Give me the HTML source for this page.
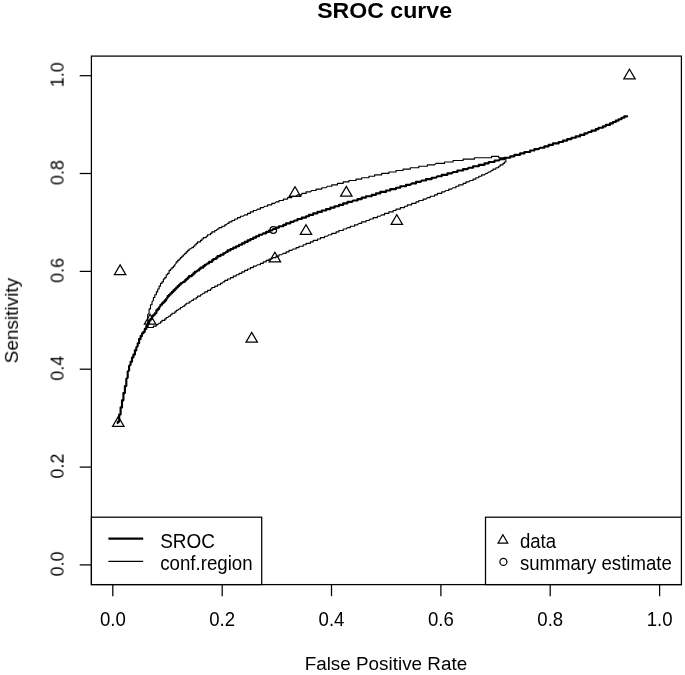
<!DOCTYPE html>
<html><head><meta charset="utf-8"><title>SROC curve</title>
<style>
html,body{margin:0;padding:0;background:#fff;}
svg{display:block;}
text{font-family:"Liberation Sans",sans-serif;fill:#000;filter:url(#bt);}
</style></head><body>
<svg width="685" height="675" viewBox="0 0 685 675">
<defs><filter id="bl" x="-5%" y="-5%" width="110%" height="110%"><feGaussianBlur stdDeviation="0.55"/></filter><filter id="bl2" x="-5%" y="-5%" width="110%" height="110%"><feGaussianBlur stdDeviation="0.4"/></filter><filter id="bt" x="-5%" y="-20%" width="110%" height="140%"><feGaussianBlur stdDeviation="0.4"/></filter></defs>
<rect width="685" height="675" fill="#fff"/>
<text transform="translate(384.60,18.40) scale(1.085,1.000)" font-size="21.3" text-anchor="middle" font-weight="bold">SROC curve</text>
<text transform="translate(385.90,669.70) scale(1.015,0.970)" font-size="18.6" text-anchor="middle">False Positive Rate</text>
<text transform="translate(17.90,320.60) rotate(-90) scale(1.020,1.000)" font-size="18.6" text-anchor="middle">Sensitivity</text>
<g fill="none" stroke="#000" stroke-width="1.25">
<rect x="91.4" y="56.1" width="590.0" height="528.5"/>
<path d="M112.8,584.6 V596.2"/>
<path d="M91.4,564.9 H79.7"/>
<path d="M222.2,584.6 V596.2"/>
<path d="M91.4,467.1 H79.7"/>
<path d="M331.5,584.6 V596.2"/>
<path d="M91.4,369.2 H79.7"/>
<path d="M440.9,584.6 V596.2"/>
<path d="M91.4,271.4 H79.7"/>
<path d="M550.2,584.6 V596.2"/>
<path d="M91.4,173.5 H79.7"/>
<path d="M659.6,584.6 V596.2"/>
<path d="M91.4,75.7 H79.7"/>
</g>
<text transform="translate(112.80,625.50) scale(1.000,1.090)" font-size="18.6" text-anchor="middle">0.0</text>
<text transform="translate(63.60,563.90) rotate(-90) scale(0.960,1.000)" font-size="18.6" text-anchor="middle">0.0</text>
<text transform="translate(222.16,625.50) scale(1.000,1.090)" font-size="18.6" text-anchor="middle">0.2</text>
<text transform="translate(63.60,466.06) rotate(-90) scale(0.960,1.000)" font-size="18.6" text-anchor="middle">0.2</text>
<text transform="translate(331.52,625.50) scale(1.000,1.090)" font-size="18.6" text-anchor="middle">0.4</text>
<text transform="translate(63.60,368.22) rotate(-90) scale(0.960,1.000)" font-size="18.6" text-anchor="middle">0.4</text>
<text transform="translate(440.88,625.50) scale(1.000,1.090)" font-size="18.6" text-anchor="middle">0.6</text>
<text transform="translate(63.60,270.38) rotate(-90) scale(0.960,1.000)" font-size="18.6" text-anchor="middle">0.6</text>
<text transform="translate(550.24,625.50) scale(1.000,1.090)" font-size="18.6" text-anchor="middle">0.8</text>
<text transform="translate(63.60,172.54) rotate(-90) scale(0.960,1.000)" font-size="18.6" text-anchor="middle">0.8</text>
<text transform="translate(659.60,625.50) scale(1.000,1.090)" font-size="18.6" text-anchor="middle">1.0</text>
<text transform="translate(63.60,74.70) rotate(-90) scale(0.960,1.000)" font-size="18.6" text-anchor="middle">1.0</text>
<path d="M117.7,423.1 L117.7,421.7 L119.2,421.7 L119.2,420.3 L119.2,418.8 L119.2,417.4 L119.2,416.0 L119.2,414.5 L120.6,414.5 L120.6,413.1 L120.6,411.7 L120.6,410.3 L120.6,408.8 L120.6,407.4 L122.0,407.4 L122.0,406.0 L122.0,404.6 L122.0,403.1 L122.0,401.7 L122.0,400.3 L123.4,400.3 L123.4,398.8 L123.4,397.4 L123.4,396.0 L123.4,394.6 L123.4,393.1 L124.9,393.1 L124.9,391.7 L124.9,390.3 L124.9,388.9 L124.9,387.4 L124.9,386.0 L126.3,386.0 L126.3,384.6 L126.3,383.1 L126.3,381.7 L126.3,380.3 L126.3,378.9 L127.7,377.4 L127.7,376.0 L127.7,374.6 L127.7,373.2 L127.7,371.7 L129.1,370.3 L129.1,368.9 L129.1,367.5 L129.1,366.0 L130.6,364.6 L130.6,363.2 L130.6,361.7 L132.0,361.7 L132.0,360.3 L132.0,358.9 L132.0,357.5 L133.4,357.5 L133.4,356.0 L133.4,354.6 L134.9,354.6 L134.9,353.2 L134.9,351.8 L134.9,350.3 L136.3,350.3 L136.3,348.9 L136.3,347.5 L137.7,346.0 L137.7,344.6 L137.7,343.2 L139.1,343.2 L139.1,341.8 L139.1,340.3 L139.1,338.9 L140.6,338.9 L140.6,337.5 L140.6,336.1 L142.0,336.1 L142.0,334.6 L142.0,333.2 L143.4,333.2 L143.4,331.8 L144.8,331.8 L144.8,330.4 L144.8,328.9 L146.3,328.9 L146.3,327.5 L146.3,326.1 L147.7,326.1 L147.7,324.6 L147.7,323.2 L149.1,323.2 L149.1,321.8 L149.1,320.4 L150.5,320.4 L150.5,318.9 L152.0,318.9 L152.0,317.5 L152.0,316.1 L153.4,316.1 L153.4,314.7 L154.8,314.7 L154.8,313.2 L156.3,313.2 L156.3,311.8 L156.3,310.4 L157.7,310.4 L157.7,308.9 L159.1,308.9 L159.1,307.5 L160.5,306.1 L160.5,304.7 L162.0,304.7 L162.0,303.2 L163.4,303.2 L163.4,301.8 L164.8,301.8 L164.8,300.4 L166.2,300.4 L166.2,299.0 L167.7,297.5 L167.7,296.1 L169.1,296.1 L169.1,294.7 L170.5,294.7 L170.5,293.2 L172.0,293.2 L172.0,291.8 L173.4,291.8 L173.4,290.4 L174.8,290.4 L174.8,289.0 L176.2,289.0 L176.2,287.5 L177.7,287.5 L177.7,286.1 L179.1,286.1 L179.1,284.7 L180.5,284.7 L180.5,283.3 L181.9,283.3 L183.4,281.8 L184.8,281.8 L184.8,280.4 L186.2,280.4 L186.2,279.0 L187.7,279.0 L187.7,277.6 L189.1,277.6 L189.1,276.1 L190.5,276.1 L191.9,276.1 L191.9,274.7 L193.4,274.7 L193.4,273.3 L194.8,273.3 L194.8,271.8 L196.2,271.8 L197.6,270.4 L199.1,270.4 L199.1,269.0 L200.5,269.0 L200.5,267.6 L201.9,267.6 L203.3,267.6 L203.3,266.1 L204.8,266.1 L204.8,264.7 L206.2,264.7 L207.6,263.3 L209.1,263.3 L209.1,261.9 L210.5,261.9 L211.9,261.9 L211.9,260.4 L213.3,260.4 L213.3,259.0 L214.8,259.0 L216.2,259.0 L216.2,257.6 L217.6,257.6 L217.6,256.1 L219.0,256.1 L220.5,256.1 L220.5,254.7 L221.9,254.7 L223.3,254.7 L223.3,253.3 L224.8,253.3 L226.2,251.9 L227.6,251.9 L227.6,250.4 L229.0,250.4 L230.5,250.4 L230.5,249.0 L231.9,249.0 L233.3,249.0 L233.3,247.6 L234.7,247.6 L236.2,247.6 L236.2,246.2 L237.6,246.2 L239.0,246.2 L239.0,244.7 L240.4,244.7 L241.9,244.7 L241.9,243.3 L243.3,243.3 L244.7,243.3 L244.7,241.9 L246.2,241.9 L247.6,241.9 L247.6,240.4 L249.0,240.4 L250.4,240.4 L250.4,239.0 L251.9,239.0 L253.3,239.0 L253.3,237.6 L254.7,237.6 L256.1,237.6 L256.1,236.2 L257.6,236.2 L259.0,236.2 L259.0,234.7 L260.4,234.7 L261.9,234.7 L263.3,233.3 L264.7,233.3 L266.1,233.3 L266.1,231.9 L267.6,231.9 L269.0,231.9 L269.0,230.5 L270.4,230.5 L271.8,230.5 L273.3,229.0 L274.7,229.0 L276.1,229.0 L276.1,227.6 L277.6,227.6 L279.0,227.6 L279.0,226.2 L280.4,226.2 L281.8,226.2 L283.3,226.2 L283.3,224.8 L284.7,224.8 L286.1,224.8 L286.1,223.3 L287.5,223.3 L289.0,223.3 L290.4,223.3 L290.4,221.9 L291.8,221.9 L293.2,221.9 L294.7,220.5 L296.1,220.5 L297.5,220.5 L297.5,219.0 L299.0,219.0 L300.4,219.0 L301.8,219.0 L301.8,217.6 L303.2,217.6 L304.7,217.6 L306.1,217.6 L306.1,216.2 L307.5,216.2 L308.9,216.2 L308.9,214.8 L310.4,214.8 L311.8,214.8 L313.2,214.8 L313.2,213.3 L314.7,213.3 L316.1,213.3 L317.5,213.3 L317.5,211.9 L318.9,211.9 L320.4,211.9 L321.8,211.9 L321.8,210.5 L323.2,210.5 L324.6,210.5 L326.1,210.5 L326.1,209.1 L327.5,209.1 L328.9,209.1 L330.4,209.1 L330.4,207.6 L331.8,207.6 L333.2,207.6 L334.6,207.6 L334.6,206.2 L336.1,206.2 L337.5,206.2 L338.9,206.2 L338.9,204.8 L340.3,204.8 L341.8,204.8 L343.2,204.8 L343.2,203.3 L344.6,203.3 L346.0,203.3 L347.5,203.3 L347.5,201.9 L348.9,201.9 L350.3,201.9 L351.8,201.9 L353.2,200.5 L354.6,200.5 L356.0,200.5 L357.5,200.5 L357.5,199.1 L358.9,199.1 L360.3,199.1 L361.7,199.1 L361.7,197.6 L363.2,197.6 L364.6,197.6 L366.0,197.6 L366.0,196.2 L367.5,196.2 L368.9,196.2 L370.3,196.2 L371.7,196.2 L371.7,194.8 L373.2,194.8 L374.6,194.8 L376.0,194.8 L376.0,193.4 L377.4,193.4 L378.9,193.4 L380.3,193.4 L380.3,191.9 L381.7,191.9 L383.1,191.9 L384.6,191.9 L386.0,191.9 L386.0,190.5 L387.4,190.5 L388.9,190.5 L390.3,190.5 L390.3,189.1 L391.7,189.1 L393.1,189.1 L394.6,189.1 L396.0,189.1 L396.0,187.7 L397.4,187.7 L398.8,187.7 L400.3,187.7 L400.3,186.2 L401.7,186.2 L403.1,186.2 L404.6,186.2 L406.0,186.2 L406.0,184.8 L407.4,184.8 L408.8,184.8 L410.3,184.8 L411.7,183.4 L413.1,183.4 L414.5,183.4 L416.0,183.4 L416.0,181.9 L417.4,181.9 L418.8,181.9 L420.3,181.9 L421.7,180.5 L423.1,180.5 L424.5,180.5 L426.0,180.5 L426.0,179.1 L427.4,179.1 L428.8,179.1 L430.2,179.1 L431.7,179.1 L431.7,177.7 L433.1,177.7 L434.5,177.7 L435.9,177.7 L437.4,176.2 L438.8,176.2 L440.2,176.2 L441.7,176.2 L441.7,174.8 L443.1,174.8 L444.5,174.8 L445.9,174.8 L447.4,174.8 L447.4,173.4 L448.8,173.4 L450.2,173.4 L451.6,173.4 L453.1,172.0 L454.5,172.0 L455.9,172.0 L457.4,172.0 L457.4,170.5 L458.8,170.5 L460.2,170.5 L461.6,170.5 L463.1,170.5 L463.1,169.1 L464.5,169.1 L465.9,169.1 L467.3,169.1 L468.8,167.7 L470.2,167.7 L471.6,167.7 L473.1,167.7 L473.1,166.2 L474.5,166.2 L475.9,166.2 L477.3,166.2 L478.8,166.2 L478.8,164.8 L480.2,164.8 L481.6,164.8 L483.0,164.8 L484.5,164.8 L484.5,163.4 L485.9,163.4 L487.3,163.4 L488.7,163.4 L488.7,162.0 L490.2,162.0 L491.6,162.0 L493.0,162.0 L494.5,162.0 L494.5,160.5 L495.9,160.5 L497.3,160.5 L498.7,160.5 L500.2,159.1 L501.6,159.1 L503.0,159.1 L504.4,159.1 L504.4,157.7 L505.9,157.7 L507.3,157.7 L508.7,157.7 L510.2,157.7 L510.2,156.3 L511.6,156.3 L513.0,156.3 L514.4,156.3 L514.4,154.8 L515.9,154.8 L517.3,154.8 L518.7,154.8 L520.1,154.8 L520.1,153.4 L521.6,153.4 L523.0,153.4 L524.4,153.4 L524.4,152.0 L525.8,152.0 L527.3,152.0 L528.7,152.0 L530.1,152.0 L530.1,150.5 L531.6,150.5 L533.0,150.5 L534.4,150.5 L534.4,149.1 L535.8,149.1 L537.3,149.1 L538.7,149.1 L540.1,147.7 L541.5,147.7 L543.0,147.7 L544.4,147.7 L544.4,146.3 L545.8,146.3 L547.3,146.3 L548.7,146.3 L548.7,144.8 L550.1,144.8 L551.5,144.8 L553.0,144.8 L553.0,143.4 L554.4,143.4 L555.8,143.4 L557.2,143.4 L558.7,143.4 L558.7,142.0 L560.1,142.0 L561.5,142.0 L563.0,142.0 L563.0,140.6 L564.4,140.6 L565.8,140.6 L567.2,140.6 L567.2,139.1 L568.7,139.1 L570.1,139.1 L571.5,139.1 L571.5,137.7 L572.9,137.7 L574.4,137.7 L575.8,137.7 L575.8,136.3 L577.2,136.3 L578.6,136.3 L580.1,136.3 L580.1,134.9 L581.5,134.9 L582.9,134.9 L584.4,134.9 L584.4,133.4 L585.8,133.4 L587.2,133.4 L588.6,132.0 L590.1,132.0 L591.5,132.0 L591.5,130.6 L592.9,130.6 L594.3,130.6 L595.8,130.6 L595.8,129.1 L597.2,129.1 L598.6,129.1 L598.6,127.7 L600.1,127.7 L601.5,127.7 L602.9,127.7 L602.9,126.3 L604.3,126.3 L605.8,126.3 L605.8,124.9 L607.2,124.9 L608.6,124.9 L610.0,124.9 L610.0,123.4 L611.5,123.4 L612.9,123.4 L612.9,122.0 L614.3,122.0 L615.8,122.0 L615.8,120.6 L617.2,120.6 L618.6,120.6 L618.6,119.2 L620.0,119.2 L621.5,119.2 L621.5,117.7 L622.9,117.7 L624.3,117.7 L624.3,116.3 L625.7,116.3 L627.2,116.3" fill="none" stroke="#000" stroke-width="2.15" stroke-linejoin="round" stroke-linecap="round" filter="url(#bl)"/>
<path d="M505.9,159.1 L505.9,157.7 L504.4,157.7 L503.0,157.7 L501.6,157.7 L500.2,157.7 L498.7,157.7 L498.7,156.3 L497.3,156.3 L495.9,156.3 L494.5,156.3 L493.0,156.3 L491.6,156.3 L491.6,157.7 L490.2,157.7 L488.7,157.7 L487.3,157.7 L485.9,157.7 L484.5,157.7 L483.0,157.7 L481.6,157.7 L480.2,157.7 L478.8,157.7 L477.3,157.7 L475.9,157.7 L474.5,157.7 L474.5,159.1 L473.1,159.1 L471.6,159.1 L470.2,159.1 L468.8,159.1 L467.3,159.1 L465.9,159.1 L464.5,159.1 L463.1,159.1 L463.1,160.5 L461.6,160.5 L460.2,160.5 L458.8,160.5 L457.4,160.5 L455.9,160.5 L454.5,160.5 L453.1,160.5 L453.1,162.0 L451.6,162.0 L450.2,162.0 L448.8,162.0 L447.4,162.0 L445.9,162.0 L444.5,162.0 L444.5,163.4 L443.1,163.4 L441.7,163.4 L440.2,163.4 L438.8,163.4 L437.4,163.4 L435.9,163.4 L434.5,164.8 L433.1,164.8 L431.7,164.8 L430.2,164.8 L428.8,164.8 L427.4,164.8 L427.4,166.2 L426.0,166.2 L424.5,166.2 L423.1,166.2 L421.7,166.2 L420.3,166.2 L418.8,166.2 L418.8,167.7 L417.4,167.7 L416.0,167.7 L414.5,167.7 L413.1,167.7 L411.7,167.7 L410.3,167.7 L410.3,169.1 L408.8,169.1 L407.4,169.1 L406.0,169.1 L404.6,169.1 L403.1,169.1 L403.1,170.5 L401.7,170.5 L400.3,170.5 L398.8,170.5 L397.4,170.5 L396.0,170.5 L396.0,172.0 L394.6,172.0 L393.1,172.0 L391.7,172.0 L390.3,172.0 L388.9,172.0 L388.9,173.4 L387.4,173.4 L386.0,173.4 L384.6,173.4 L383.1,173.4 L381.7,173.4 L381.7,174.8 L380.3,174.8 L378.9,174.8 L377.4,174.8 L376.0,174.8 L374.6,174.8 L374.6,176.2 L373.2,176.2 L371.7,176.2 L370.3,176.2 L368.9,176.2 L368.9,177.7 L367.5,177.7 L366.0,177.7 L364.6,177.7 L363.2,177.7 L361.7,177.7 L361.7,179.1 L360.3,179.1 L358.9,179.1 L357.5,179.1 L356.0,179.1 L356.0,180.5 L354.6,180.5 L353.2,180.5 L351.8,180.5 L350.3,180.5 L348.9,180.5 L348.9,181.9 L347.5,181.9 L346.0,181.9 L344.6,181.9 L343.2,181.9 L343.2,183.4 L341.8,183.4 L340.3,183.4 L338.9,183.4 L337.5,183.4 L337.5,184.8 L336.1,184.8 L334.6,184.8 L333.2,184.8 L331.8,184.8 L331.8,186.2 L330.4,186.2 L328.9,186.2 L327.5,186.2 L326.1,187.7 L324.6,187.7 L323.2,187.7 L321.8,187.7 L321.8,189.1 L320.4,189.1 L318.9,189.1 L317.5,189.1 L316.1,189.1 L316.1,190.5 L314.7,190.5 L313.2,190.5 L311.8,190.5 L310.4,191.9 L308.9,191.9 L307.5,191.9 L306.1,191.9 L306.1,193.4 L304.7,193.4 L303.2,193.4 L301.8,193.4 L301.8,194.8 L300.4,194.8 L299.0,194.8 L297.5,194.8 L296.1,196.2 L294.7,196.2 L293.2,196.2 L291.8,196.2 L291.8,197.6 L290.4,197.6 L289.0,197.6 L287.5,197.6 L287.5,199.1 L286.1,199.1 L284.7,199.1 L283.3,199.1 L283.3,200.5 L281.8,200.5 L280.4,200.5 L279.0,200.5 L279.0,201.9 L277.6,201.9 L276.1,201.9 L274.7,203.3 L273.3,203.3 L271.8,203.3 L271.8,204.8 L270.4,204.8 L269.0,204.8 L267.6,204.8 L267.6,206.2 L266.1,206.2 L264.7,206.2 L263.3,207.6 L261.9,207.6 L260.4,207.6 L260.4,209.1 L259.0,209.1 L257.6,209.1 L256.1,210.5 L254.7,210.5 L253.3,210.5 L253.3,211.9 L251.9,211.9 L250.4,211.9 L250.4,213.3 L249.0,213.3 L247.6,213.3 L247.6,214.8 L246.2,214.8 L244.7,214.8 L243.3,216.2 L241.9,216.2 L240.4,216.2 L240.4,217.6 L239.0,217.6 L237.6,217.6 L237.6,219.0 L236.2,219.0 L234.7,219.0 L234.7,220.5 L233.3,220.5 L231.9,220.5 L231.9,221.9 L230.5,221.9 L229.0,221.9 L229.0,223.3 L227.6,223.3 L226.2,224.8 L224.8,224.8 L224.8,226.2 L223.3,226.2 L221.9,226.2 L221.9,227.6 L220.5,227.6 L219.0,227.6 L219.0,229.0 L217.6,229.0 L216.2,230.5 L214.8,230.5 L214.8,231.9 L213.3,231.9 L211.9,231.9 L211.9,233.3 L210.5,233.3 L210.5,234.7 L209.1,234.7 L207.6,234.7 L207.6,236.2 L206.2,236.2 L206.2,237.6 L204.8,237.6 L203.3,237.6 L203.3,239.0 L201.9,239.0 L201.9,240.4 L200.5,240.4 L200.5,241.9 L199.1,241.9 L197.6,241.9 L197.6,243.3 L196.2,243.3 L196.2,244.7 L194.8,244.7 L194.8,246.2 L193.4,246.2 L193.4,247.6 L191.9,247.6 L190.5,249.0 L189.1,249.0 L189.1,250.4 L187.7,250.4 L187.7,251.9 L186.2,251.9 L186.2,253.3 L184.8,253.3 L184.8,254.7 L183.4,254.7 L183.4,256.1 L181.9,256.1 L181.9,257.6 L180.5,257.6 L180.5,259.0 L179.1,259.0 L179.1,260.4 L177.7,260.4 L177.7,261.9 L176.2,261.9 L176.2,263.3 L174.8,264.7 L174.8,266.1 L173.4,266.1 L173.4,267.6 L172.0,267.6 L172.0,269.0 L170.5,269.0 L170.5,270.4 L169.1,270.4 L169.1,271.8 L169.1,273.3 L167.7,273.3 L167.7,274.7 L166.2,274.7 L166.2,276.1 L166.2,277.6 L164.8,277.6 L164.8,279.0 L163.4,279.0 L163.4,280.4 L163.4,281.8 L162.0,281.8 L162.0,283.3 L160.5,283.3 L160.5,284.7 L160.5,286.1 L159.1,286.1 L159.1,287.5 L159.1,289.0 L157.7,289.0 L157.7,290.4 L157.7,291.8 L156.3,291.8 L156.3,293.2 L156.3,294.7 L154.8,294.7 L154.8,296.1 L154.8,297.5 L153.4,297.5 L153.4,299.0 L153.4,300.4 L152.0,301.8 L152.0,303.2 L152.0,304.7 L150.5,304.7 L150.5,306.1 L150.5,307.5 L150.5,308.9 L149.1,308.9 L149.1,310.4 L149.1,311.8 L149.1,313.2 L147.7,314.7 L147.7,316.1 L147.7,317.5 L147.7,318.9 L147.7,320.4 L147.7,321.8 L147.7,323.2 L147.7,324.6 L147.7,326.1 L147.7,327.5 L149.1,327.5 L150.5,327.5 L152.0,327.5 L153.4,327.5 L153.4,326.1 L154.8,326.1 L156.3,326.1 L156.3,324.6 L157.7,324.6 L159.1,323.2 L160.5,323.2 L160.5,321.8 L162.0,321.8 L162.0,320.4 L163.4,320.4 L164.8,320.4 L164.8,318.9 L166.2,318.9 L166.2,317.5 L167.7,317.5 L169.1,316.1 L170.5,316.1 L170.5,314.7 L172.0,314.7 L172.0,313.2 L173.4,313.2 L174.8,313.2 L174.8,311.8 L176.2,311.8 L176.2,310.4 L177.7,310.4 L179.1,308.9 L180.5,308.9 L180.5,307.5 L181.9,307.5 L183.4,306.1 L184.8,306.1 L184.8,304.7 L186.2,304.7 L186.2,303.2 L187.7,303.2 L189.1,303.2 L189.1,301.8 L190.5,301.8 L191.9,300.4 L193.4,300.4 L193.4,299.0 L194.8,299.0 L196.2,299.0 L196.2,297.5 L197.6,297.5 L197.6,296.1 L199.1,296.1 L200.5,296.1 L200.5,294.7 L201.9,294.7 L203.3,293.2 L204.8,293.2 L204.8,291.8 L206.2,291.8 L207.6,291.8 L207.6,290.4 L209.1,290.4 L210.5,290.4 L210.5,289.0 L211.9,289.0 L211.9,287.5 L213.3,287.5 L214.8,287.5 L214.8,286.1 L216.2,286.1 L217.6,286.1 L217.6,284.7 L219.0,284.7 L220.5,284.7 L220.5,283.3 L221.9,283.3 L223.3,281.8 L224.8,281.8 L224.8,280.4 L226.2,280.4 L227.6,280.4 L227.6,279.0 L229.0,279.0 L230.5,279.0 L230.5,277.6 L231.9,277.6 L233.3,277.6 L233.3,276.1 L234.7,276.1 L236.2,276.1 L236.2,274.7 L237.6,274.7 L239.0,274.7 L239.0,273.3 L240.4,273.3 L241.9,273.3 L241.9,271.8 L243.3,271.8 L244.7,271.8 L244.7,270.4 L246.2,270.4 L247.6,270.4 L247.6,269.0 L249.0,269.0 L250.4,269.0 L250.4,267.6 L251.9,267.6 L253.3,267.6 L253.3,266.1 L254.7,266.1 L256.1,266.1 L257.6,264.7 L259.0,264.7 L260.4,264.7 L260.4,263.3 L261.9,263.3 L263.3,263.3 L263.3,261.9 L264.7,261.9 L266.1,261.9 L266.1,260.4 L267.6,260.4 L269.0,260.4 L269.0,259.0 L270.4,259.0 L271.8,259.0 L273.3,257.6 L274.7,257.6 L276.1,257.6 L276.1,256.1 L277.6,256.1 L279.0,256.1 L279.0,254.7 L280.4,254.7 L281.8,254.7 L283.3,253.3 L284.7,253.3 L286.1,253.3 L286.1,251.9 L287.5,251.9 L289.0,251.9 L289.0,250.4 L290.4,250.4 L291.8,250.4 L293.2,249.0 L294.7,249.0 L296.1,249.0 L296.1,247.6 L297.5,247.6 L299.0,247.6 L299.0,246.2 L300.4,246.2 L301.8,246.2 L303.2,246.2 L303.2,244.7 L304.7,244.7 L306.1,244.7 L306.1,243.3 L307.5,243.3 L308.9,243.3 L310.4,243.3 L310.4,241.9 L311.8,241.9 L313.2,241.9 L313.2,240.4 L314.7,240.4 L316.1,240.4 L317.5,240.4 L317.5,239.0 L318.9,239.0 L320.4,239.0 L320.4,237.6 L321.8,237.6 L323.2,237.6 L324.6,237.6 L324.6,236.2 L326.1,236.2 L327.5,236.2 L328.9,234.7 L330.4,234.7 L331.8,234.7 L331.8,233.3 L333.2,233.3 L334.6,233.3 L336.1,233.3 L336.1,231.9 L337.5,231.9 L338.9,231.9 L338.9,230.5 L340.3,230.5 L341.8,230.5 L343.2,230.5 L343.2,229.0 L344.6,229.0 L346.0,229.0 L347.5,227.6 L348.9,227.6 L350.3,227.6 L350.3,226.2 L351.8,226.2 L353.2,226.2 L354.6,226.2 L354.6,224.8 L356.0,224.8 L357.5,224.8 L358.9,223.3 L360.3,223.3 L361.7,223.3 L361.7,221.9 L363.2,221.9 L364.6,221.9 L366.0,221.9 L366.0,220.5 L367.5,220.5 L368.9,220.5 L370.3,219.0 L371.7,219.0 L373.2,219.0 L373.2,217.6 L374.6,217.6 L376.0,217.6 L377.4,217.6 L377.4,216.2 L378.9,216.2 L380.3,216.2 L381.7,214.8 L383.1,214.8 L384.6,214.8 L384.6,213.3 L386.0,213.3 L387.4,213.3 L388.9,213.3 L388.9,211.9 L390.3,211.9 L391.7,211.9 L393.1,211.9 L393.1,210.5 L394.6,210.5 L396.0,210.5 L396.0,209.1 L397.4,209.1 L398.8,209.1 L400.3,209.1 L400.3,207.6 L401.7,207.6 L403.1,207.6 L404.6,207.6 L404.6,206.2 L406.0,206.2 L407.4,206.2 L407.4,204.8 L408.8,204.8 L410.3,204.8 L411.7,204.8 L411.7,203.3 L413.1,203.3 L414.5,203.3 L416.0,203.3 L416.0,201.9 L417.4,201.9 L418.8,201.9 L418.8,200.5 L420.3,200.5 L421.7,200.5 L423.1,200.5 L423.1,199.1 L424.5,199.1 L426.0,199.1 L427.4,197.6 L428.8,197.6 L430.2,197.6 L430.2,196.2 L431.7,196.2 L433.1,196.2 L434.5,196.2 L434.5,194.8 L435.9,194.8 L437.4,194.8 L437.4,193.4 L438.8,193.4 L440.2,193.4 L441.7,193.4 L441.7,191.9 L443.1,191.9 L444.5,191.9 L445.9,190.5 L447.4,190.5 L448.8,190.5 L448.8,189.1 L450.2,189.1 L451.6,189.1 L453.1,187.7 L454.5,187.7 L455.9,187.7 L455.9,186.2 L457.4,186.2 L458.8,186.2 L458.8,184.8 L460.2,184.8 L461.6,184.8 L463.1,184.8 L463.1,183.4 L464.5,183.4 L465.9,183.4 L465.9,181.9 L467.3,181.9 L468.8,181.9 L470.2,180.5 L471.6,180.5 L473.1,180.5 L473.1,179.1 L474.5,179.1 L475.9,179.1 L475.9,177.7 L477.3,177.7 L478.8,177.7 L478.8,176.2 L480.2,176.2 L481.6,176.2 L481.6,174.8 L483.0,174.8 L484.5,174.8 L485.9,173.4 L487.3,173.4 L488.7,172.0 L490.2,172.0 L491.6,170.5 L493.0,170.5 L493.0,169.1 L494.5,169.1 L495.9,169.1 L495.9,167.7 L497.3,167.7 L498.7,167.7 L498.7,166.2 L500.2,166.2 L500.2,164.8 L501.6,164.8 L503.0,164.8 L503.0,163.4 L504.4,163.4 L504.4,162.0 L505.9,162.0 L505.9,160.5Z" fill="none" stroke="#000" stroke-width="1.15" stroke-linejoin="round" filter="url(#bl2)"/>
<g fill="none" stroke="#000" stroke-width="1.25">
<path d="M120.1,264.9 L125.8,274.6 L114.4,274.6 Z"/>
<path d="M150.1,314.3 L155.8,324.0 L144.4,324.0 Z"/>
<path d="M295.0,186.7 L300.7,196.4 L289.3,196.4 Z"/>
<path d="M306.0,224.7 L311.7,234.4 L300.3,234.4 Z"/>
<path d="M274.9,252.2 L280.6,261.9 L269.2,261.9 Z"/>
<path d="M251.7,332.4 L257.4,342.1 L246.0,342.1 Z"/>
<path d="M346.3,186.4 L352.0,196.1 L340.6,196.1 Z"/>
<path d="M396.8,214.7 L402.5,224.4 L391.1,224.4 Z"/>
<path d="M629.5,69.2 L635.2,78.9 L623.8,78.9 Z"/>
<path d="M118.3,416.6 L124.0,426.3 L112.6,426.3 Z"/>
<circle cx="273.3" cy="230" r="3.3"/>
</g>
<g fill="#fff" stroke="#000" stroke-width="1.25">
<rect x="91.4" y="517.2" width="170.3" height="67.4"/>
<rect x="485.5" y="517.2" width="195.9" height="67.4"/>
</g>
<path d="M108.4,538.6 H143.2" stroke="#000" stroke-width="2.4" fill="none"/>
<path d="M108.4,561.3 H143.2" stroke="#000" stroke-width="1.25" fill="none"/>
<text transform="translate(160.20,548.30) scale(1.020,1.080)" font-size="18.6">SROC</text>
<text transform="translate(160.20,569.90) scale(1.005,1.080)" font-size="18.6">conf.region</text>
<g fill="none" stroke="#000" stroke-width="1.25">
<path d="M502.9,534.7 L507.7,543.0 L498.1,543.0 Z"/>
<circle cx="503.4" cy="561.9" r="3.5"/>
</g>
<text transform="translate(519.90,548.40) scale(1.000,1.060)" font-size="18.6">data</text>
<text transform="translate(519.90,570.20) scale(1.000,1.060)" font-size="18.6">summary estimate</text>
</svg></body></html>
